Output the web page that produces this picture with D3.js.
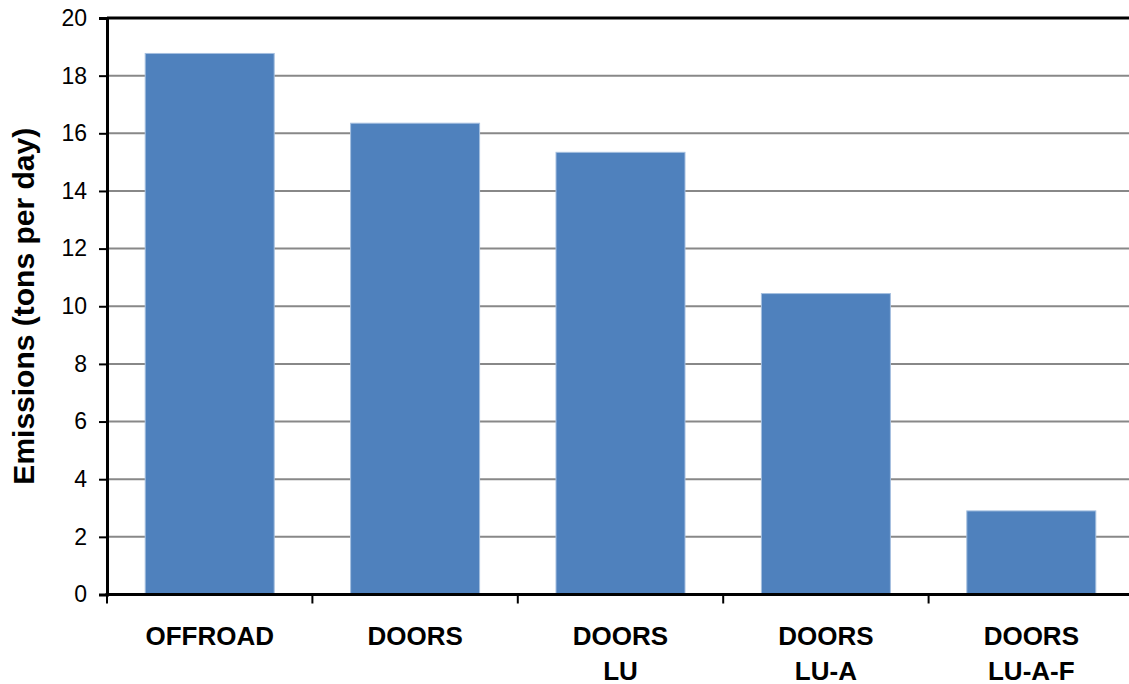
<!DOCTYPE html>
<html>
<head>
<meta charset="utf-8">
<script src="https://cdn.jsdelivr.net/npm/d3@7"></script>
<style>
  body { margin: 0; background: #fff; }
  svg { display: block; font-family: "Liberation Sans", Arial, sans-serif; }
</style>
</head>
<body>
<div id="chart"></div>
<script>
// scenario names (each entry is the lines of the label)
const categories = ["OFFROAD", "DOORS", "DOORS LU", "DOORS LU-A", "DOORS LU-A-F"];
const labelLines = [["OFFROAD"], ["DOORS"], ["DOORS", "LU"], ["DOORS", "LU-A"], ["DOORS", "LU-A-F"]];
const emissions = [18.77, 16.35, 15.34, 10.44, 2.9];
const yTicks = [0, 2, 4, 6, 8, 10, 12, 14, 16, 18, 20];

const width = 1129, height = 684;
const margin = { top: 18, left: 107 };
const plotW = 1027, plotH = 576.5;

const svg = d3.select("#chart").append("svg")
  .attr("width", width)
  .attr("height", height);

const g = svg.append("g")
  .attr("transform", `translate(${margin.left},${margin.top})`);

const x = d3.scaleBand()
  .domain(categories)
  .range([0, plotW])
  .paddingInner(0.372)
  .paddingOuter(0.186);

const y = d3.scaleLinear()
  .domain([0, 20])
  .range([plotH, 0]);

// gridlines
g.selectAll(".grid")
  .data(yTicks.filter(d => d > 0 && d < 20))
  .enter().append("line")
  .attr("x1", 0)
  .attr("x2", plotW)
  .attr("y1", d => y(d))
  .attr("y2", d => y(d))
  .attr("stroke", "#888888")
  .attr("stroke-width", 2);

// top border
g.append("line")
  .attr("x1", 0).attr("x2", plotW)
  .attr("y1", y(20)).attr("y2", y(20))
  .attr("stroke", "#000").attr("stroke-width", 3);

// bars
g.selectAll(".bar")
  .data(emissions)
  .enter().append("rect")
  .attr("x", (d, i) => x(categories[i]))
  .attr("y", d => y(d))
  .attr("width", x.bandwidth())
  .attr("height", d => y(0) - y(d))
  .attr("fill", "#4f81bd")
  .attr("stroke", "#a5bfdf")
  .attr("stroke-width", 1);

// y axis
const yAxis = g.append("g")
  .call(d3.axisLeft(y).tickValues(yTicks).tickSize(8).tickPadding(12).tickFormat(d3.format("d")));
yAxis.select(".domain").attr("stroke", "#000").attr("stroke-width", 3);
yAxis.selectAll(".tick line").attr("stroke", "#000").attr("stroke-width", 2);
yAxis.selectAll(".tick text")
  .attr("fill", "#000")
  .style("font-size", "23px")
  .style("font-family", "'Liberation Sans', Arial, sans-serif");

// x axis with ticks between categories
const step = x.step();
const xAxis = g.append("g").attr("transform", `translate(0,${plotH})`);
xAxis.append("line")
  .attr("x1", -1.5).attr("x2", plotW)
  .attr("stroke", "#000").attr("stroke-width", 3);
xAxis.selectAll(".xtick")
  .data(d3.range(categories.length + 1))
  .enter().append("line")
  .attr("x1", i => i * step).attr("x2", i => i * step)
  .attr("y1", 0).attr("y2", 9)
  .attr("stroke", "#000").attr("stroke-width", 2);

const labels = xAxis.selectAll(".xlabel")
  .data(categories)
  .enter().append("text")
  .attr("x", d => x(d) + x.bandwidth() / 2)
  .attr("y", 50)
  .attr("text-anchor", "middle")
  .style("font-size", "26px")
  .style("font-weight", "bold")
  .attr("fill", "#000");

labels.each(function (d, i) {
  d3.select(this).selectAll("tspan")
    .data(labelLines[i])
    .enter().append("tspan")
    .attr("x", x(d) + x.bandwidth() / 2)
    .attr("dy", (t, j) => j === 0 ? 0 : 35)
    .text(t => t);
});

// y title
svg.append("text")
  .attr("transform", `translate(34,${margin.top + plotH / 2}) rotate(-90)`)
  .attr("text-anchor", "middle")
  .style("font-size", "30px")
  .style("font-weight", "bold")
  .attr("fill", "#000")
  .text("Emissions (tons per day)");
</script>
</body>
</html>
